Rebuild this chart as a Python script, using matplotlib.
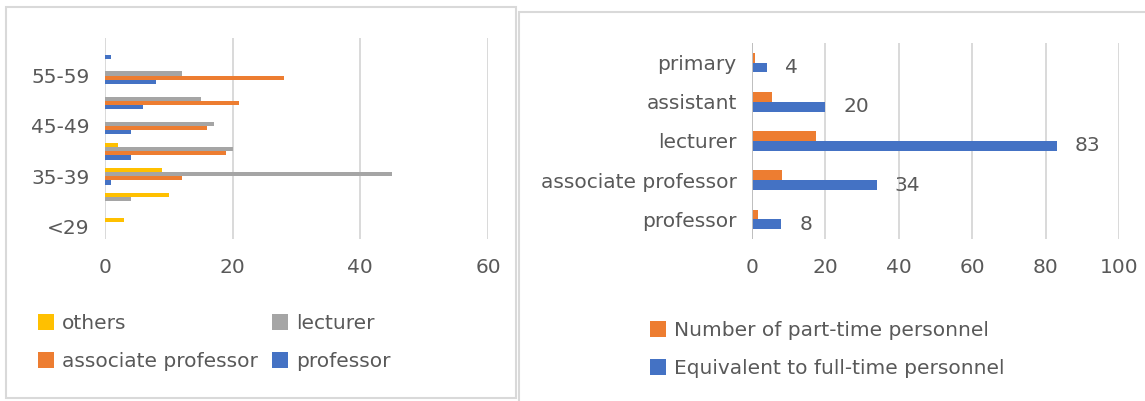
import matplotlib.pyplot as plt
import numpy as np
from matplotlib.patches import Rectangle

# left chart: staff by age group
age_groups = ["<29", "30-34", "35-39", "40-44", "45-49", "50-54", "55-59", ">=60"]
age_tick_labels = ["<29", "", "35-39", "", "45-49", "", "55-59", ""]
professor = [0, 0, 1, 4, 4, 6, 8, 1]
associate_professor = [0, 0, 12, 19, 16, 21, 28, 0]
lecturer = [0, 4, 45, 20, 17, 15, 12, 0]
others = [3, 10, 9, 2, 0, 0, 0, 0]

# right chart: personnel by title
titles = ["professor", "associate professor", "lecturer", "assistant", "primary"]
part_time = [1.6, 8.3, 17.5, 5.5, 0.8]
full_time_equiv = [8, 34, 83, 20, 4]

BLUE = "#4472C4"
ORANGE = "#ED7D31"
GRAY = "#A5A5A5"
YELLOW = "#FFC000"
TEXT = "#595959"
GRID = "#d9d9d9"
FS = 14.5

W, H = 1145, 401
fig = plt.figure(figsize=(W / 100, H / 100), dpi=100)


def _fig_box(x0, y0, x1, y1):
    return [x0 / W, 1 - y1 / H, (x1 - x0) / W, (y1 - y0) / H]


def _style_axes(ax, xmax, step):
    ax.set_xlim(0, xmax)
    ax.set_xticks(np.arange(0, xmax + 1, step))
    for s in ax.spines.values():
        s.set_visible(False)
    ax.grid(axis="x", color=GRID, linewidth=1.4)
    ax.set_axisbelow(True)
    ax.tick_params(axis="both", length=0, labelsize=FS, labelcolor=TEXT)
    ax.tick_params(axis="x", pad=14)
    ax.tick_params(axis="y", pad=11)


# panel borders
fig.patches.append(Rectangle((6 / W, 1 - 398 / H), 510 / W, 391 / H,
                             transform=fig.transFigure, fill=False,
                             edgecolor=GRID, linewidth=1.5))
fig.patches.append(Rectangle((519 / W, -0.1), 1.0, 1.1 - 12 / H,
                             transform=fig.transFigure, fill=False,
                             edgecolor=GRID, linewidth=1.5))

# ---- left chart
ax1 = fig.add_axes(_fig_box(105, 38, 488, 239))
y = np.arange(len(age_groups))
h = 0.17
series = [
    (professor, BLUE, "professor", -1.5),
    (associate_professor, ORANGE, "associate professor", -0.5),
    (lecturer, GRAY, "lecturer", 0.5),
    (others, YELLOW, "others", 1.5),
]
handles = {}
for vals, color, label, off in series:
    handles[label] = ax1.barh(y + off * h, vals, height=h, color=color, label=label)
ax1.set_ylim(-0.5, len(age_groups) - 0.5)
ax1.set_yticks(y)
ax1.set_yticklabels(age_tick_labels)
_style_axes(ax1, 60, 20)

order = ["others", "associate professor", "lecturer", "professor"]
fig.legend([handles[k] for k in order], order, ncol=2, frameon=False,
           loc="upper left", bbox_to_anchor=(38 / W, 1 - 314 / H),
           borderpad=0, borderaxespad=0, fontsize=FS, labelcolor=TEXT,
           handlelength=0.8, handleheight=0.8, handletextpad=0.4,
           columnspacing=0.7, labelspacing=0.95)

# ---- right chart
ax2 = fig.add_axes(_fig_box(752, 43, 1119, 239))
y2 = np.arange(len(titles))
h2 = 0.25
b_pt = ax2.barh(y2 + h2 / 2, part_time, height=h2, color=ORANGE)
b_ft = ax2.barh(y2 - h2 / 2, full_time_equiv, height=h2, color=BLUE)
for yy, v in zip(y2 - h2 / 2, full_time_equiv):
    ax2.annotate(f"{v}", (v, yy), xytext=(13, 0), textcoords="offset points",
                 ha="left", va="center", fontsize=FS, color=TEXT)
ax2.set_ylim(-0.5, len(titles) - 0.5)
ax2.set_yticks(y2)
ax2.set_yticklabels(titles)
_style_axes(ax2, 100, 20)
ax2.axvline(0, color="#bfbfbf", linewidth=1.4, zorder=1)

fig.legend([b_pt, b_ft],
           ["Number of part-time personnel", "Equivalent to full-time personnel"],
           frameon=False, loc="upper left",
           bbox_to_anchor=(650 / W, 1 - 321 / H),
           borderpad=0, borderaxespad=0, fontsize=FS, labelcolor=TEXT,
           handlelength=0.8, handleheight=0.8, handletextpad=0.4,
           labelspacing=0.95)

fig.savefig("out.png", dpi=100, facecolor="white")
